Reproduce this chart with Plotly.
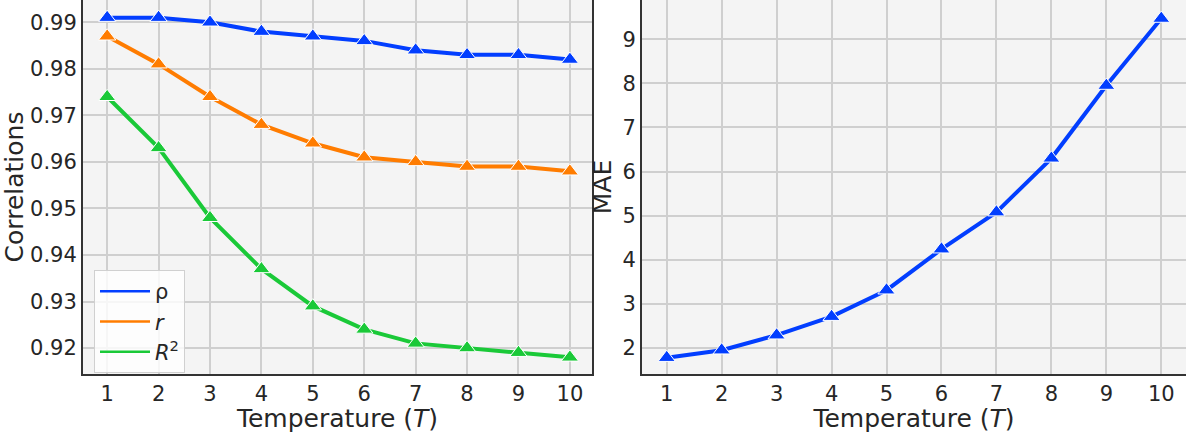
import plotly.graph_objects as go

temps = [1, 2, 3, 4, 5, 6, 7, 8, 9, 10]
rho = [0.991, 0.991, 0.990, 0.988, 0.987, 0.986, 0.984, 0.983, 0.983, 0.982]
r_vals = [0.987, 0.981, 0.974, 0.968, 0.964, 0.961, 0.960, 0.959, 0.959, 0.958]
r2_vals = [0.974, 0.963, 0.948, 0.937, 0.929, 0.924, 0.921, 0.920, 0.919, 0.918]
mae = [1.78, 1.95, 2.29, 2.71, 3.31, 4.24, 5.08, 6.30, 7.95, 9.47]

corr_names = ["ρ", "<i>r</i>", "<i>R</i><sup>2</sup>"]
corr_series = [rho, r_vals, r2_vals]
colors = ["#023eff", "#ff7c00", "#1ac938"]

FONT = "DejaVu Sans"
TXT = "#262626"

fig = go.Figure()
for i, (name, vals, c) in enumerate(zip(corr_names, corr_series, colors)):
    fig.add_trace(go.Scatter(
        x=temps, y=vals, mode="lines+markers", showlegend=False,
        line=dict(color=c, width=4),
        marker=dict(symbol="triangle-up", size=15, color=c, line=dict(color="white", width=1)),
        xaxis="x", yaxis="y"))
    fig.add_trace(go.Scatter(
        x=[None], y=[None], mode="lines", name=name, showlegend=True,
        line=dict(color=c, width=2.5), xaxis="x", yaxis="y"))

fig.add_trace(go.Scatter(
    x=temps, y=mae, mode="lines+markers", showlegend=False,
    line=dict(color=colors[0], width=4),
    marker=dict(symbol="triangle-up", size=15, color=colors[0], line=dict(color="white", width=1)),
    xaxis="x2", yaxis="y2"))

W, H = 1186, 433
axis_common = dict(
    showgrid=True, gridcolor="#cfcfcf", gridwidth=1.5,
    showline=True, linecolor="#333333", linewidth=2, mirror=True,
    zeroline=False, ticks="", automargin=False,
    tickfont=dict(family=FONT, size=21, color=TXT),
)
title_font = dict(family=FONT, size=25, color=TXT)

fig.update_layout(
    width=W, height=H,
    margin=dict(l=0, r=0, t=0, b=59, autoexpand=False),
    paper_bgcolor="white", plot_bgcolor="#f4f4f4",
    font=dict(family=FONT, color=TXT),
    xaxis=dict(axis_common, domain=[83 / W, 592 / W], range=[0.53, 10.43],
               tickvals=temps, title=dict(text="Temperature (<i>T</i>)", font=title_font, standoff=2)),
    yaxis=dict(axis_common, range=[0.91442, 0.99479],
               tickvals=[0.92, 0.93, 0.94, 0.95, 0.96, 0.97, 0.98, 0.99],
               ticktext=["0.92", "0.93", "0.94", "0.95", "0.96", "0.97", "0.98", "0.99"],
               title=dict(text="Correlations", font=title_font, standoff=4)),
    xaxis2=dict(axis_common, domain=[642 / W, 1.0], range=[0.55, 10.45], anchor="y2",
                tickvals=temps, title=dict(text="Temperature (<i>T</i>)", font=title_font, standoff=2)),
    yaxis2=dict(axis_common, range=[1.41, 9.89], anchor="x2",
                tickvals=[2, 3, 4, 5, 6, 7, 8, 9],
                title=dict(text="MAE", font=title_font, standoff=4)),
    legend=dict(x=94 / W, y=(374 - 270) / 374, xref="paper", yref="paper",
                xanchor="left", yanchor="top",
                bgcolor="rgba(255,255,255,0.8)", bordercolor="#d0d0d0", borderwidth=1,
                font=dict(family=FONT, size=21, color=TXT),
                itemwidth=50),
)

fig.write_html("out.html", config={"displayModeBar": False},
               post_script="document.body.style.margin='0px';")
